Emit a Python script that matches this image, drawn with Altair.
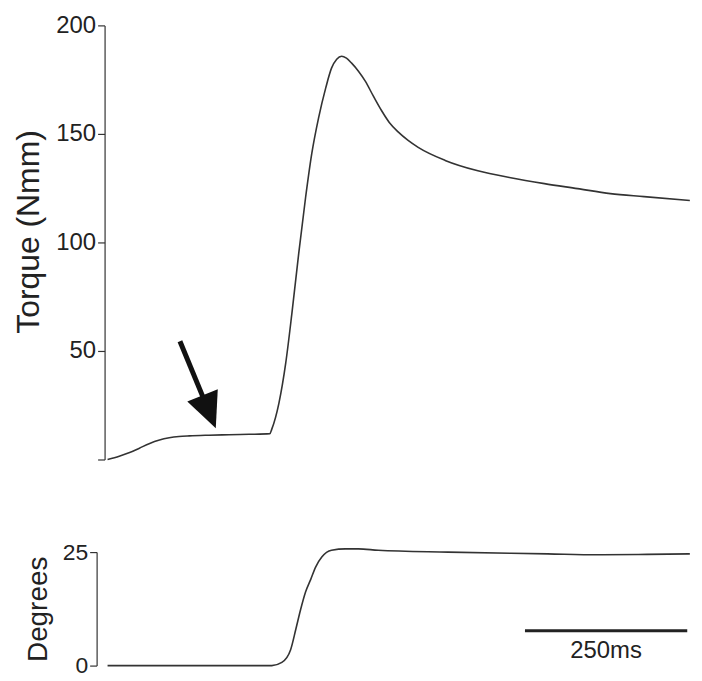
import altair as alt
import pandas as pd

# ---- data ----
torque_time_ms = [0, 18, 34, 49, 64, 80, 95, 110, 126, 156, 187, 218, 250, 253,
                  264, 274.5, 284, 294.5, 305, 314.5, 325, 336, 345, 353, 360.5,
                  368, 376, 386.5, 397, 409.5, 422, 434, 448, 463, 478.5, 520, 570.5,
                  621, 673, 724, 774.5, 826.5, 897]
torque_nmm = [0, 1.5, 3.2, 5.2, 7.3, 9.0, 10.0, 10.6, 10.9, 11.2, 11.4, 11.6, 11.9, 14,
              26, 44.5, 67.4, 95, 120.6, 140.8, 157.3, 171.1, 180.3, 184.4, 185.8,
              184.9, 182.6, 178.9, 174.3, 167.4, 160.8, 155.3, 150.8, 147.0, 143.8, 137.8, 133,
              129.8, 127.1, 124.8, 122.5, 121.1, 119.3]

angle_time_ms = [0, 64, 141, 218, 253, 268.5, 282, 290, 297.5, 305, 313, 320.5,
                 330, 345, 366.5, 386.5, 417, 524.5, 678, 754.5, 831, 897]
angle_deg = [0, 0, 0, 0, 0, 0.7, 3.5, 8.0, 12.4, 16.2, 19.0, 21.7,
             23.9, 25.4, 25.7, 25.7, 25.4, 25.0, 24.6, 24.4, 24.5, 24.6]

torque_ticks = [0, 50, 100, 150, 200]
angle_ticks = [0, 25]

time_domain = [-4.6, 894.2]

# annotation arrow (data units: ms, Nmm)
arrow_tail = [111.5, 54.5]
arrow_end = [147.5, 28.4]
arrow_head = [156.5, 22.0]

# scale bar (data units: ms, degrees)
scalebar_start_ms = 643
scalebar_len_ms = 250
scalebar_level = 7.7
scalebar_label = "250ms"
scalebar_label_level = 3.3

FONT = "Liberation Sans"
INK = "#222222"
LINE = "#333333"

df_torque = pd.DataFrame({"t": torque_time_ms, "v": torque_nmm})
df_angle = pd.DataFrame({"t": angle_time_ms, "v": angle_deg})
df_shaft = pd.DataFrame({"t": [arrow_tail[0]], "v": [arrow_tail[1]],
                         "t2": [arrow_end[0]], "v2": [arrow_end[1]]})
df_head = pd.DataFrame({"t": [arrow_head[0]], "v": [arrow_head[1]]})
df_bar = pd.DataFrame({"t": [scalebar_start_ms], "t2": [scalebar_start_ms + scalebar_len_ms],
                       "v": [scalebar_level]})
df_bar_text = pd.DataFrame({"t": [scalebar_start_ms + scalebar_len_ms / 2],
                            "v": [scalebar_label_level], "label": [scalebar_label]})

x_enc = alt.X("t:Q", scale=alt.Scale(domain=time_domain, nice=False, zero=False), axis=None)

top_axis = alt.Axis(values=torque_ticks,
                    labelExpr="datum.value == 0 ? '' : datum.label",
                    title="Torque (Nmm)", titleFont=FONT, titleFontSize=32,
                    titleFontWeight="normal", titleColor=INK, titlePadding=10,
                    titleY=207,
                    labelFont=FONT, labelFontSize=24, labelColor=INK, labelPadding=2,
                    domainColor=LINE, domainWidth=1.2, tickColor=LINE, tickWidth=1.2,
                    tickSize=7, grid=False)
y_top = alt.Y("v:Q", scale=alt.Scale(domain=[0, 200], nice=False, zero=False), axis=top_axis)

torque_line = alt.Chart(df_torque).mark_line(color=LINE, strokeWidth=1.6,
                                             interpolate="monotone").encode(x=x_enc, y=y_top)
shaft = alt.Chart(df_shaft).mark_rule(color="#111111", strokeWidth=5).encode(
    x=x_enc, y=y_top, x2="t2:Q", y2="v2:Q")
head = alt.Chart(df_head).mark_point(shape="M-0.93,-1L0.93,-1L0,1Z", filled=True,
                                     color="#111111", opacity=1, size=1260, angle=338,
                                     strokeWidth=0).encode(x=x_enc, y=y_top)
top = alt.layer(torque_line, shaft, head).properties(width=586, height=436)

bottom_axis = alt.Axis(values=angle_ticks, offset=8,
                       title="Degrees", titleFont=FONT, titleFontSize=28,
                       titleFontWeight="normal", titleColor=INK, titlePadding=10,
                       labelFont=FONT, labelFontSize=23, labelColor=INK, labelPadding=2,
                       domainColor=LINE, domainWidth=1.2, tickColor=LINE, tickWidth=1.2,
                       tickSize=7, grid=False)
y_bot = alt.Y("v:Q", scale=alt.Scale(domain=[0, 25], nice=False, zero=False), axis=bottom_axis)

angle_line = alt.Chart(df_angle).mark_line(color=LINE, strokeWidth=1.6,
                                           interpolate="monotone").encode(x=x_enc, y=y_bot)
bar = alt.Chart(df_bar).mark_rule(color="#222222", strokeWidth=3).encode(x=x_enc, x2="t2:Q", y=y_bot)
bar_text = alt.Chart(df_bar_text).mark_text(font=FONT, fontSize=24, color=INK,
                                            align="center", baseline="middle").encode(
    x=x_enc, y=y_bot, text="label:N")
bottom = alt.layer(angle_line, bar, bar_text).properties(width=586, height=114)

chart = alt.vconcat(top, bottom, spacing=78).properties(
    padding={"left": 4, "right": 0, "top": 4, "bottom": 0}
).configure_view(stroke=None, strokeWidth=0)

chart.save("out.html", embed_options={"renderer": "svg", "actions": False})
